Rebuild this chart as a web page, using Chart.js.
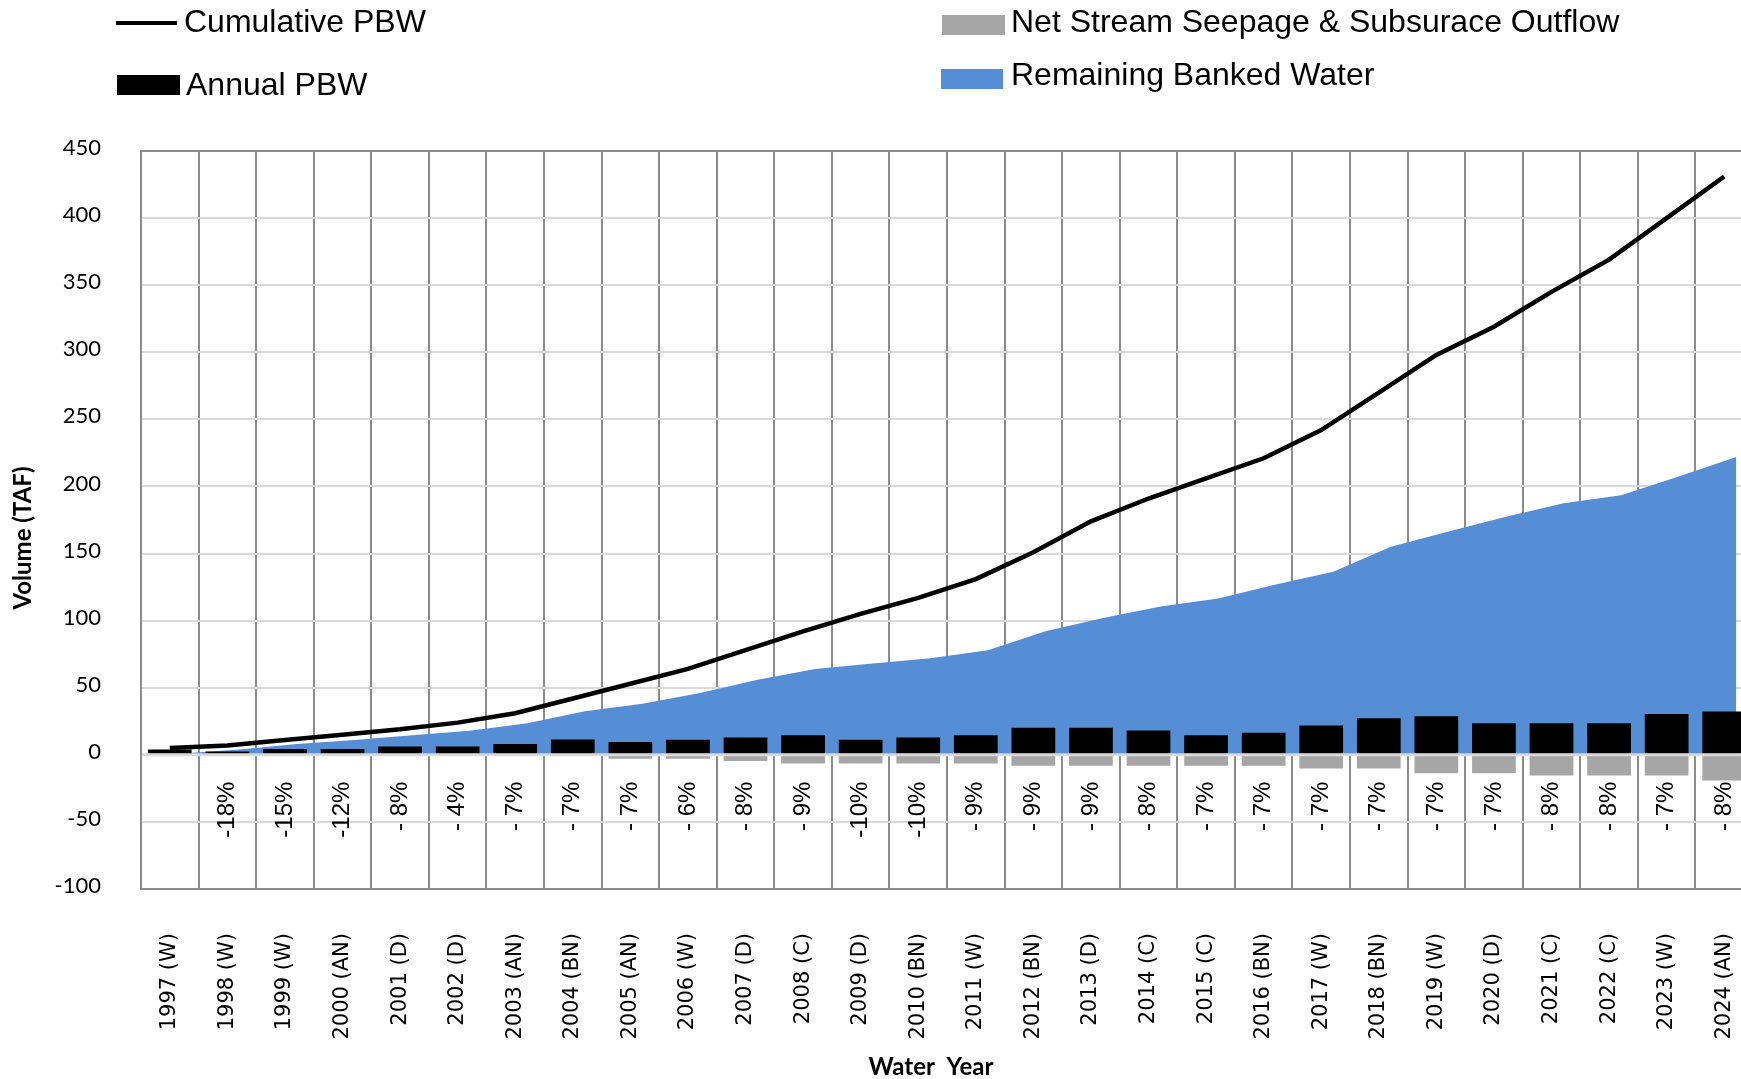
<!DOCTYPE html>
<html>
<head>
<meta charset="utf-8">
<script src="https://cdn.jsdelivr.net/npm/chart.js@4.4.1/dist/chart.umd.min.js"></script>
<style>
    body { margin: 0; width: 1741px; height: 1079px; overflow: hidden; background: #fff; }
    #wrap { position: absolute; left: 0; top: 0; width: 1760px; height: 1079px; }
    .lg-text { position: absolute; font-family: "Liberation Sans", Arial, sans-serif; font-size: 32px; line-height: 1; color: #000; white-space: pre; }
    .lg-mark { position: absolute; }
</style>
</head>
<body>
<div id="wrap"><canvas id="pbw"></canvas></div>

<!-- legend -->
<div class="lg-mark" style="left:116px; top:21px; width:61px; height:4px; background:#000;"></div>
<div class="lg-text" style="left:184px; top:5px;">Cumulative PBW</div>
<div class="lg-mark" style="left:117px; top:75px; width:63px; height:20px; background:#000;"></div>
<div class="lg-text" style="left:186px; top:68px;">Annual PBW</div>
<div class="lg-mark" style="left:942px; top:15px; width:63px; height:20px; background:#a6a6a6;"></div>
<div class="lg-text" style="left:1011px; top:5px;">Net Stream Seepage &amp; Subsurace Outflow</div>
<div class="lg-mark" style="left:941px; top:69px; width:62px; height:20px; background:#558ed5;"></div>
<div class="lg-text" style="left:1011px; top:58px;">Remaining Banked Water</div>

<script>
const waterYears = ['1997 (W)', '1998 (W)', '1999 (W)', '2000 (AN)', '2001 (D)', '2002 (D)', '2003 (AN)',
    '2004 (BN)', '2005 (AN)', '2006 (W)', '2007 (D)', '2008 (C)', '2009 (D)', '2010 (BN)', '2011 (W)',
    '2012 (BN)', '2013 (D)', '2014 (C)', '2015 (C)', '2016 (BN)', '2017 (W)', '2018 (BN)', '2019 (W)',
    '2020 (D)', '2021 (C)', '2022 (C)', '2023 (W)', '2024 (AN)'];

const cumulativePBW = [5, 7, 11, 15, 19, 24, 31, 42, 53, 64, 78, 92, 105, 117, 131, 151, 174, 191, 206,
    221, 242, 270, 298, 319, 345, 369, 400, 431];

const annualPBW = [4, 2.5, 4.4, 4.4, 6.2, 6.2, 8, 11.5, 9.5, 11.2, 12.9, 14.6, 11.2, 12.9, 14.6, 20.1,
    20.1, 18.1, 14.6, 16.4, 21.9, 27.3, 28.8, 23.6, 23.6, 23.6, 30.5, 32.3];

const netSeepage = [0, -0.4, -0.6, -0.5, -0.5, -0.3, -0.6, -0.8, -3, -3, -4.7, -6.5, -6.5, -6.5, -6.5,
    -8.2, -8.2, -8.2, -8.2, -8.2, -10.2, -10.2, -13.7, -13.7, -15.4, -15.4, -15.4, -19.1];

const remainingBanked = [1, 4, 8, 11, 14.5, 18, 23.5, 32.5, 38, 46, 56, 64, 68, 72, 78, 92, 102, 110.5,
    116.5, 127, 136.5, 155, 166.5, 177.5, 187.5, 193.5, 207.5, 222];

const seepagePct = ['', '-18%', '-15%', '-12%', '- 8%', '- 4%', '- 7%', '- 7%', '- 7%', '- 6%', '- 8%',
    '- 9%', '-10%', '-10%', '- 9%', '- 9%', '- 9%', '- 8%', '- 7%', '- 7%', '- 7%', '- 7%', '- 7%',
    '- 7%', '- 8%', '- 8%', '- 7%', '- 8%'];

const yTicks = { min: -100, max: 450, step: 50 };
const pctLabelAt = -20;     // value on the y scale where the % labels hang
const areaShift = 0.21;     // the area series sits a little right of the category centres

const darkGrid = '#8c8c8c';
const lightGrid = '#d9d9d9';
const titleFont = 'bold 24px Lato, sans-serif';

// zero axis line, % labels and the two axis titles
const overlay = {
    id: 'overlay',
    afterDatasetsDraw(chart) {
        const {ctx, chartArea, scales} = chart;
        const y0 = scales.y.getPixelForValue(0);
        ctx.save();
        ctx.strokeStyle = lightGrid;
        ctx.lineWidth = 3;
        ctx.beginPath();
        ctx.moveTo(chartArea.left + 1, y0);
        ctx.lineTo(chartArea.right, y0);
        ctx.stroke();

        ctx.fillStyle = '#000';
        ctx.font = '24px "Liberation Sans", Arial, sans-serif';
        ctx.textAlign = 'right';
        ctx.textBaseline = 'middle';
        const yl = scales.y.getPixelForValue(pctLabelAt);
        for (let i = 0; i < seepagePct.length; i++) {
            if (!seepagePct[i]) continue;
            const x = scales.x.getPixelForValue(i);
            ctx.save();
            ctx.translate(x, yl);
            ctx.rotate(-Math.PI / 2);
            ctx.fillText(seepagePct[i], 0, 0);
            ctx.restore();
        }
        ctx.restore();
    },
    afterDraw(chart) {
        const {ctx} = chart;
        ctx.save();
        ctx.fillStyle = '#000';
        ctx.font = titleFont;
        ctx.textAlign = 'center';
        ctx.textBaseline = 'middle';
        ctx.fillText('Water  Year', 931, 1067);
        ctx.translate(23, 538);
        ctx.rotate(-Math.PI / 2);
        ctx.fillText('Volume (TAF)', 0, 0);
        ctx.restore();
    }
};

const ctx = document.getElementById('pbw').getContext('2d');

new Chart(ctx, {
    type: 'bar',
    data: {
        labels: waterYears,
        datasets: [
            {
                type: 'line',
                label: 'Cumulative PBW',
                data: cumulativePBW,
                borderColor: '#000',
                borderWidth: 4.5,
                pointRadius: 0,
                tension: 0,
                fill: false,
                order: 0
            },
            {
                label: 'Annual PBW',
                data: annualPBW,
                backgroundColor: '#000',
                grouped: false,
                barPercentage: 0.76,
                categoryPercentage: 1,
                order: 1
            },
            {
                label: 'Net Stream Seepage & Subsurace Outflow',
                data: netSeepage,
                backgroundColor: '#a6a6a6',
                grouped: false,
                barPercentage: 0.76,
                categoryPercentage: 1,
                order: 1
            },
            {
                type: 'line',
                label: 'Remaining Banked Water',
                data: remainingBanked.map((v, i) => ({x: i, y: v})),
                xAxisID: 'x2',
                borderWidth: 0,
                backgroundColor: '#558ed5',
                pointRadius: 0,
                tension: 0,
                fill: 'origin',
                order: 2
            }
        ]
    },
    options: {
        responsive: true,
        maintainAspectRatio: false,
        animation: false,
        layout: {
            padding: {top: 151, right: 7, bottom: 0, left: 0}
        },
        plugins: {
            legend: {display: false},
            tooltip: {enabled: false}
        },
        scales: {
            x: {
                type: 'category',
                offset: true,
                afterFit: scale => {
                    scale.height = 190;
                    scale.paddingLeft = 0;
                    scale.paddingRight = 0;
                },
                grid: {
                    offset: true,
                    color: darkGrid,
                    lineWidth: 2,
                    drawTicks: false
                },
                border: {color: darkGrid, width: 2},
                ticks: {
                    autoSkip: false,
                    minRotation: 90,
                    maxRotation: 90,
                    padding: 44,
                    color: '#000',
                    font: {family: '"DejaVu Sans", sans-serif', size: 21}
                }
            },
            x2: {
                type: 'linear',
                display: false,
                offset: false,
                min: -0.5 - areaShift,
                max: waterYears.length - 0.5 - areaShift
            },
            y: {
                min: yTicks.min,
                max: yTicks.max,
                afterFit: scale => { scale.width = 141; },
                grid: {
                    color: c => (c.tick && c.tick.value === yTicks.max) ? darkGrid : lightGrid,
                    lineWidth: 2,
                    drawTicks: false
                },
                border: {color: darkGrid, width: 2},
                ticks: {
                    stepSize: yTicks.step,
                    padding: 40,
                    labelOffset: -3,
                    color: '#000',
                    font: {family: 'Lato, sans-serif', size: 22}
                }
            }
        }
    },
    plugins: [overlay]
});
</script>
</body>
</html>
